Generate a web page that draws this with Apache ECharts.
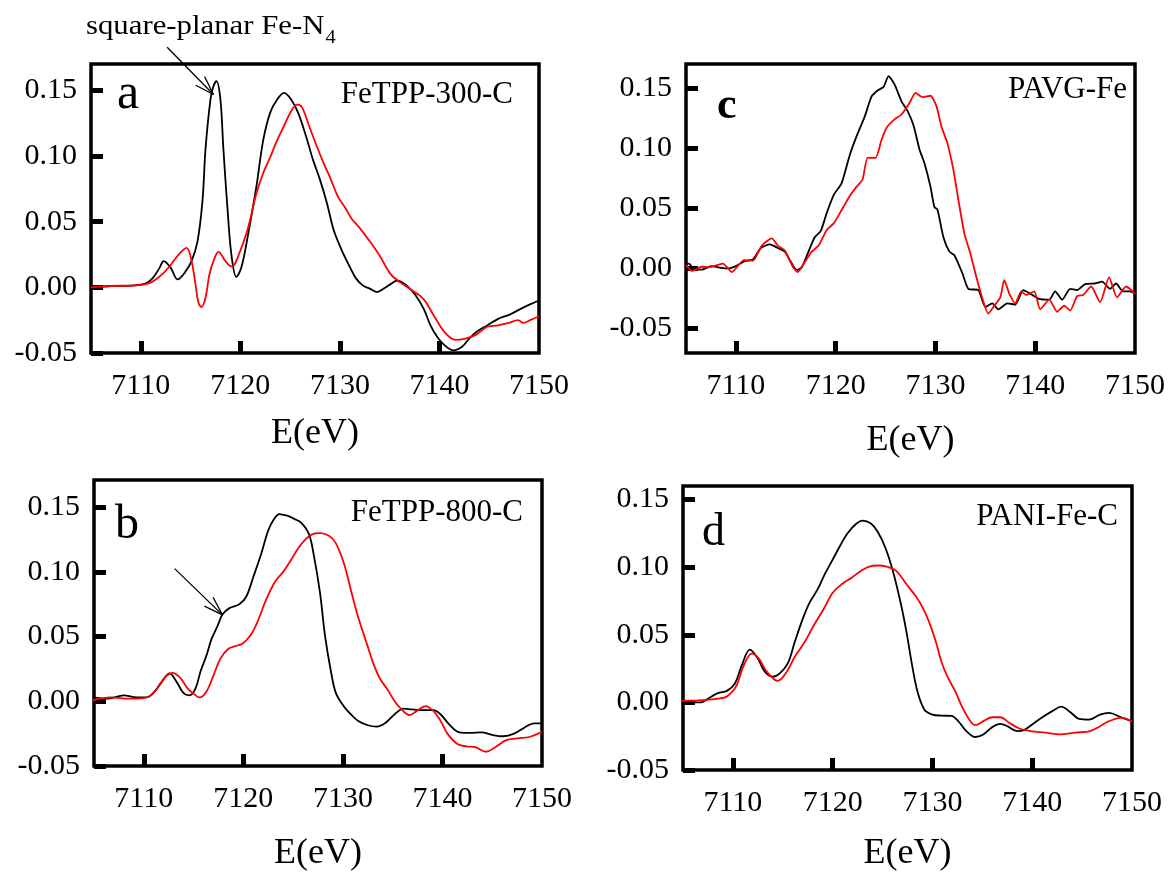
<!DOCTYPE html>
<html>
<head>
<meta charset="utf-8">
<script src="https://cdn.jsdelivr.net/npm/echarts@6/dist/echarts.min.js"></script>
<style>html,body{margin:0;padding:0;background:#fff}#chart{width:1168px;height:873px}</style>
</head>
<body>
<div id="chart"></div>
<script>
// ---------------- data ----------------
const xTicks = [7110, 7120, 7130, 7140, 7150];
const yTicks = [-0.05, 0.00, 0.05, 0.10, 0.15];
const panelLetters = ['a', 'b', 'c', 'd'];
const sampleNames = ['FeTPP-300-C', 'FeTPP-800-C', 'PAVG-Fe', 'PANI-Fe-C'];
const annotationText = 'square-planar Fe-N';
const annotationSub = '4';

const aBlack = [[7105.0,0.000],[7107.0,0.001],[7109.4,0.0015],[7110.5,0.003],[7111.2,0.007],[7111.9,0.015],[7112.3,0.020],[7113.0,0.015],[7113.7,0.006],[7114.4,0.011],[7115.1,0.020],[7115.7,0.035],[7116.2,0.066],[7116.5,0.105],[7117.0,0.143],[7117.3,0.153],[7117.6,0.157],[7118.0,0.143],[7118.3,0.105],[7118.7,0.061],[7119.1,0.025],[7119.6,0.008],[7120.1,0.015],[7120.8,0.041],[7121.6,0.076],[7122.3,0.112],[7123.0,0.133],[7123.7,0.143],[7124.4,0.148],[7125.1,0.143],[7125.8,0.133],[7126.6,0.115],[7127.3,0.097],[7128.0,0.082],[7128.7,0.064],[7129.4,0.043],[7130.2,0.028],[7130.9,0.017],[7131.6,0.007],[7132.3,0.0015],[7133.0,-0.001],[7133.7,-0.0036],[7134.5,-0.0005],[7135.2,0.003],[7135.7,0.005],[7136.2,0.004],[7136.9,0.000],[7137.6,-0.006],[7138.4,-0.016],[7139.1,-0.029],[7139.8,-0.038],[7140.5,-0.044],[7141.4,-0.048],[7142.3,-0.045],[7143.0,-0.039],[7143.7,-0.034],[7144.8,-0.029],[7145.9,-0.024],[7147.0,-0.021],[7148.0,-0.017],[7149.1,-0.013],[7150.0,-0.010]];
const aRed = [[7105.0,0.000],[7107.0,0.001],[7109.4,0.0015],[7110.8,0.003],[7111.5,0.006],[7112.3,0.011],[7113.0,0.017],[7113.7,0.024],[7114.6,0.030],[7115.1,0.020],[7115.5,0.002],[7115.8,-0.012],[7116.1,-0.015],[7116.5,-0.008],[7116.9,0.010],[7117.4,0.022],[7117.8,0.027],[7118.5,0.020],[7119.1,0.016],[7119.4,0.017],[7120.1,0.030],[7120.8,0.046],[7121.6,0.071],[7122.3,0.087],[7123.0,0.099],[7123.7,0.112],[7124.4,0.123],[7125.1,0.134],[7125.7,0.139],[7126.2,0.137],[7126.9,0.123],[7127.7,0.107],[7128.4,0.094],[7129.1,0.082],[7129.8,0.069],[7130.5,0.061],[7131.2,0.052],[7131.9,0.046],[7133.0,0.035],[7134.0,0.024],[7135.1,0.010],[7136.2,0.003],[7137.2,-0.002],[7138.4,-0.009],[7139.4,-0.021],[7140.5,-0.034],[7141.6,-0.040],[7142.6,-0.039],[7143.7,-0.036],[7144.8,-0.030],[7145.9,-0.029],[7147.0,-0.027],[7147.9,-0.025],[7148.4,-0.027],[7149.1,-0.025],[7150.0,-0.022]];

const bBlack = [[7104.9,0.003],[7106.3,0.002],[7108.0,0.0046],[7109.3,0.003],[7110.4,0.0033],[7111.1,0.0076],[7111.8,0.015],[7112.6,0.0216],[7113.3,0.015],[7114.0,0.0063],[7114.6,0.0046],[7115.2,0.010],[7115.7,0.023],[7116.3,0.0355],[7116.8,0.048],[7117.4,0.058],[7117.9,0.067],[7118.6,0.072],[7119.6,0.075],[7120.3,0.081],[7121.0,0.096],[7121.8,0.114],[7122.5,0.132],[7123.1,0.141],[7123.6,0.1447],[7124.4,0.1434],[7125.1,0.141],[7125.8,0.138],[7126.6,0.129],[7127.1,0.112],[7127.7,0.084],[7128.2,0.051],[7128.8,0.023],[7129.3,0.0063],[7130.1,-0.004],[7130.8,-0.010],[7131.5,-0.015],[7132.5,-0.0185],[7133.4,-0.0195],[7134.3,-0.0165],[7135.2,-0.010],[7136.1,-0.0056],[7136.9,-0.0063],[7138.0,-0.0069],[7139.1,-0.0069],[7139.8,-0.010],[7140.7,-0.018],[7141.7,-0.024],[7142.8,-0.0244],[7143.9,-0.024],[7145.0,-0.026],[7146.1,-0.027],[7147.2,-0.025],[7148.3,-0.020],[7149.2,-0.017],[7150.0,-0.017]];
const bRed = [[7104.9,0.0008],[7106.7,0.003],[7108.5,0.002],[7110.0,0.0025],[7110.7,0.0046],[7111.5,0.0114],[7112.2,0.019],[7112.9,0.022],[7113.7,0.0178],[7114.4,0.010],[7115.2,0.0046],[7115.6,0.003],[7116.3,0.0076],[7117.0,0.020],[7117.7,0.033],[7118.5,0.0406],[7119.2,0.0426],[7119.9,0.0444],[7120.7,0.0508],[7121.4,0.061],[7122.3,0.0787],[7123.2,0.0926],[7124.0,0.100],[7124.7,0.108],[7125.4,0.117],[7126.1,0.124],[7126.9,0.129],[7127.7,0.130],[7128.6,0.128],[7129.3,0.122],[7130.1,0.1066],[7130.8,0.086],[7131.5,0.066],[7132.3,0.047],[7133.0,0.0305],[7133.7,0.0178],[7134.5,0.0089],[7135.2,0.000],[7135.9,-0.0063],[7136.7,-0.0107],[7137.4,-0.0076],[7138.3,-0.0038],[7139.1,-0.0076],[7139.8,-0.015],[7140.5,-0.025],[7141.5,-0.033],[7142.4,-0.0348],[7143.3,-0.0355],[7144.4,-0.039],[7145.3,-0.0355],[7146.4,-0.030],[7147.5,-0.0287],[7148.8,-0.0274],[7150.0,-0.0236]];

const cBlack = [[7105.0,0.0036],[7105.3,0.004],[7105.8,-0.001],[7106.6,-0.001],[7107.5,0.002],[7108.5,0.0005],[7109.2,0.000],[7110.0,0.002],[7110.9,0.006],[7111.7,0.0075],[7112.5,0.017],[7113.4,0.020],[7114.2,0.017],[7114.9,0.014],[7115.5,0.0055],[7116.1,-0.0014],[7116.6,0.001],[7117.2,0.0125],[7117.9,0.026],[7118.5,0.031],[7119.1,0.046],[7119.8,0.061],[7120.6,0.071],[7121.4,0.094],[7122.1,0.110],[7122.9,0.126],[7123.6,0.143],[7124.2,0.148],[7124.8,0.151],[7125.3,0.160],[7125.9,0.153],[7126.6,0.139],[7127.2,0.131],[7127.8,0.119],[7128.4,0.099],[7128.9,0.0875],[7129.5,0.068],[7129.9,0.051],[7130.2,0.049],[7130.8,0.026],[7131.4,0.014],[7131.9,0.011],[7132.7,-0.004],[7133.3,-0.017],[7134.3,-0.018],[7135.0,-0.032],[7135.7,-0.029],[7136.3,-0.034],[7137.2,-0.029],[7138.0,-0.030],[7138.8,-0.018],[7139.5,-0.021],[7140.3,-0.025],[7141.4,-0.026],[7142.0,-0.019],[7142.7,-0.026],[7143.5,-0.017],[7144.2,-0.018],[7145.0,-0.013],[7146.0,-0.0125],[7146.7,-0.011],[7147.5,-0.017],[7148.1,-0.0125],[7148.8,-0.019],[7149.5,-0.019],[7150.0,-0.021]];
const cRed = [[7105.0,0.003],[7105.6,-0.002],[7106.6,0.0014],[7107.3,0.001],[7108.7,0.004],[7109.6,-0.003],[7110.8,0.007],[7111.7,0.0064],[7112.6,0.019],[7113.6,0.025],[7114.2,0.019],[7114.9,0.015],[7115.7,0.0014],[7116.2,-0.003],[7116.8,0.004],[7117.6,0.014],[7118.3,0.019],[7119.1,0.032],[7119.8,0.0375],[7120.6,0.0486],[7121.4,0.060],[7122.1,0.068],[7122.7,0.074],[7123.2,0.092],[7124.0,0.092],[7124.6,0.107],[7125.1,0.117],[7125.9,0.124],[7126.6,0.128],[7127.4,0.1375],[7128.0,0.146],[7128.7,0.1425],[7129.5,0.1436],[7130.1,0.135],[7130.6,0.118],[7131.2,0.104],[7131.8,0.082],[7132.3,0.057],[7132.9,0.029],[7133.5,0.0125],[7134.0,-0.004],[7134.6,-0.022],[7135.3,-0.0375],[7135.9,-0.031],[7136.5,-0.024],[7136.9,-0.0097],[7137.4,-0.021],[7138.0,-0.029],[7138.6,-0.019],[7139.1,-0.022],[7139.9,-0.019],[7140.5,-0.034],[7141.4,-0.026],[7142.2,-0.036],[7142.9,-0.031],[7143.5,-0.035],[7144.2,-0.023],[7144.8,-0.022],[7145.6,-0.015],[7146.5,-0.028],[7147.4,-0.0075],[7148.2,-0.024],[7149.1,-0.015],[7150.0,-0.021]];

const dBlack = [[7104.9,0.0007],[7105.8,0.0002],[7106.8,0.000],[7107.5,0.0027],[7108.5,0.0068],[7109.4,0.0085],[7110.2,0.014],[7110.9,0.0276],[7111.7,0.039],[7112.5,0.0324],[7113.2,0.0227],[7114.0,0.019],[7114.7,0.0215],[7115.5,0.0288],[7116.2,0.0446],[7117.0,0.0617],[7117.7,0.0739],[7118.5,0.0837],[7119.2,0.0946],[7120.0,0.1056],[7120.8,0.1166],[7121.5,0.125],[7122.3,0.1317],[7123.0,0.1344],[7123.8,0.1324],[7124.5,0.1263],[7125.3,0.114],[7126.0,0.098],[7126.8,0.074],[7127.4,0.052],[7127.9,0.030],[7128.5,0.008],[7129.2,-0.0054],[7130.0,-0.009],[7130.9,-0.0098],[7131.9,-0.010],[7132.6,-0.014],[7133.4,-0.0212],[7134.3,-0.0256],[7135.1,-0.0237],[7136.0,-0.0183],[7136.8,-0.0159],[7137.5,-0.0176],[7138.5,-0.0212],[7139.1,-0.0207],[7140.0,-0.0163],[7140.9,-0.0115],[7142.1,-0.0061],[7142.9,-0.0032],[7143.8,-0.0071],[7144.7,-0.0122],[7145.7,-0.0127],[7146.8,-0.009],[7147.7,-0.0078],[7148.9,-0.011],[7150.0,-0.014]];
const dRed = [[7104.9,0.0012],[7106.6,0.0015],[7108.1,0.0024],[7109.2,0.0037],[7109.8,0.0068],[7110.4,0.013],[7111.1,0.0276],[7111.9,0.036],[7112.6,0.0324],[7113.4,0.0227],[7114.5,0.0159],[7115.3,0.0215],[7116.2,0.0337],[7117.2,0.0446],[7118.1,0.0568],[7119.1,0.069],[7120.0,0.081],[7120.9,0.0873],[7121.9,0.0922],[7122.8,0.097],[7123.6,0.1002],[7124.5,0.1012],[7125.5,0.1002],[7126.4,0.097],[7127.4,0.0873],[7128.3,0.0788],[7129.1,0.069],[7129.8,0.0568],[7130.4,0.0434],[7130.9,0.030],[7131.5,0.019],[7132.3,0.008],[7133.0,-0.0037],[7133.8,-0.0139],[7134.3,-0.0168],[7135.1,-0.0139],[7136.0,-0.011],[7136.8,-0.011],[7137.7,-0.0151],[7138.7,-0.0193],[7139.8,-0.0212],[7141.3,-0.0224],[7142.8,-0.0237],[7144.3,-0.0224],[7145.8,-0.0212],[7146.8,-0.0176],[7147.7,-0.0139],[7148.9,-0.0115],[7150.0,-0.014]];

// arrows in data coordinates: [panelIndex, from, to]
const arrowA = [0, [7112.65, 0.1828], [7117.3, 0.1468]];
const arrowB = [1, [7113.1, 0.1025], [7117.9, 0.0668]];

// ---------------- layout ----------------
const FONT = '"Liberation Serif", "Times New Roman", serif';
const grids = [
  {left: 91, top: 64, width: 448, height: 289},   // a
  {left: 94, top: 480, width: 448, height: 288},  // b
  {left: 686, top: 64, width: 449, height: 289},  // c
  {left: 683, top: 486, width: 449, height: 287}  // d
];
const xRange = [7105, 7150];
const yRanges = [[-0.05, 0.17], [-0.05, 0.171], [-0.0703, 0.17], [-0.05, 0.16]];
const nameGaps = [63, 70, 70, 66];
const seriesSets = [[aBlack, aRed], [bBlack, bRed], [cBlack, cRed], [dBlack, dRed]];
const smoothness = [0.35, 0.35, 0.2, 0.35];
const TICK_LEN = 12, TICK_W = 5;

const chart = echarts.init(document.getElementById('chart'));

const labelStyle = {fontFamily: FONT, fontSize: 30, color: '#000'};
const tickStyle = {show: true, inside: true, length: TICK_LEN, lineStyle: {color: '#000', width: TICK_W}};
const option = {
  animation: false,
  backgroundColor: '#fff',
  grid: grids.map(g => Object.assign({show: true, borderColor: '#000', borderWidth: 3.5}, g)),
  xAxis: grids.map((g, i) => ({
    type: 'value', gridIndex: i, min: xRange[0], max: xRange[1],
    name: 'E(eV)', nameLocation: 'middle', nameGap: nameGaps[i],
    nameTextStyle: {fontFamily: FONT, fontSize: 36, color: '#000'},
    axisLine: {show: false, onZero: false},
    axisTick: Object.assign({customValues: xTicks.slice(0, 4)}, tickStyle),
    axisLabel: Object.assign({show: true, customValues: xTicks, margin: 18, formatter: v => String(Math.round(v))}, labelStyle),
    splitLine: {show: false}
  })),
  yAxis: grids.map((g, i) => ({
    type: 'value', gridIndex: i, min: yRanges[i][0], max: yRanges[i][1],
    axisLine: {show: false, onZero: false},
    axisTick: Object.assign({customValues: yTicks}, tickStyle),
    axisLabel: Object.assign({show: true, customValues: yTicks, formatter: v => Number(v).toFixed(2), margin: 14}, labelStyle),
    splitLine: {show: false}
  })),
  series: []
};
seriesSets.forEach((pair, i) => {
  ['#000000', '#ff0000'].forEach((col, k) => {
    option.series.push({
      type: 'line', xAxisIndex: i, yAxisIndex: i, data: pair[k],
      showSymbol: false, symbol: 'none', smooth: smoothness[i],
      lineStyle: {color: col, width: 1.8}, itemStyle: {color: col}
    });
  });
});
chart.setOption(option);

// ---------------- annotations ----------------
function txt(x, y, text, size, opts) {
  opts = opts || {};
  return Object.assign({
    type: 'text', x: x, y: y, z: 100,
    style: {
      text: text, fontFamily: FONT, fontSize: size, fontWeight: opts.bold ? 'bold' : 'normal',
      fill: '#000', align: opts.align || 'left', verticalAlign: 'middle',
      textAlign: opts.align || 'left', textVerticalAlign: 'middle'
    }
  }, opts.extra || {});
}
function seg(x1, y1, x2, y2, w) {
  return {type: 'line', z: 100, shape: {x1: x1, y1: y1, x2: x2, y2: y2}, style: {stroke: '#000', lineWidth: w}};
}
function arrow(spec) {
  const p0 = chart.convertToPixel({gridIndex: spec[0]}, spec[1]);
  const p1 = chart.convertToPixel({gridIndex: spec[0]}, spec[2]);
  const ang = Math.atan2(p0[1] - p1[1], p0[0] - p1[0]);
  const L = 20, da = 18 * Math.PI / 180;
  const els = [seg(p0[0], p0[1], p1[0], p1[1], 1.3)];
  [-1, 1].forEach(s => els.push(seg(p1[0], p1[1], p1[0] + L * Math.cos(ang + s * da), p1[1] + L * Math.sin(ang + s * da), 1.3)));
  return els;
}

const annSize = 27;
const ctx = document.createElement('canvas').getContext('2d');
ctx.font = annSize + 'px ' + FONT;
const annW = ctx.measureText(annotationText).width;
const annScale = 1.14;

const graphics = [
  txt(117, 94.5, panelLetters[0], 50),
  txt(115, 525, panelLetters[1], 48),
  txt(717, 106.5, panelLetters[2], 44, {bold: true}),
  txt(702, 533, panelLetters[3], 46),
  txt(513, 95, sampleNames[0], 31, {align: 'right'}),
  txt(523, 512.5, sampleNames[1], 31, {align: 'right'}),
  txt(1127, 90, sampleNames[2], 31, {align: 'right'}),
  txt(1118, 517, sampleNames[3], 31, {align: 'right'}),
  txt(86, 35 - 0.305 * annSize, annotationText, annSize, {extra: {scaleX: annScale, originX: 0, originY: 0}}),
  txt(86 + annW * annScale + 1, 38, annotationSub, 18, {extra: {scaleX: annScale, originX: 0, originY: 0}})
].concat(arrow(arrowA), arrow(arrowB));

chart.setOption({graphic: {elements: graphics}});
</script>
</body>
</html>
